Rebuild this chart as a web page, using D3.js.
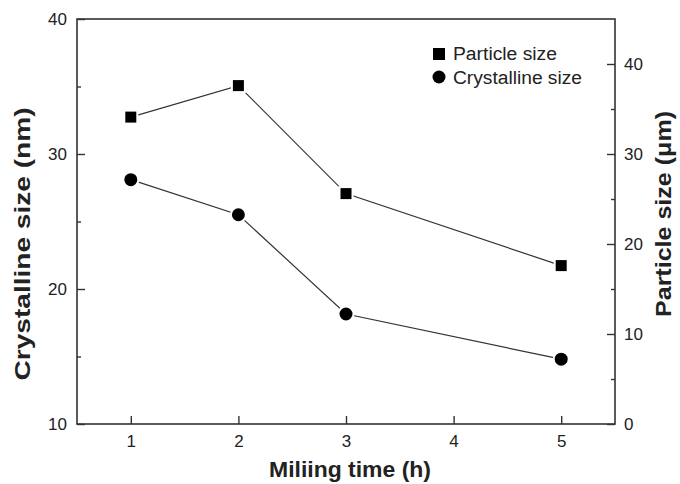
<!DOCTYPE html>
<html>
<head>
<meta charset="utf-8">
<script src="https://cdn.jsdelivr.net/npm/d3@7"></script>
<style>
  body { margin: 0; background: #fff; }
  svg text { font-family: "Liberation Sans", Arial, sans-serif; fill: #222; }
</style>
</head>
<body>
<div id="chart"></div>
<script>
// data
var millingTime = [1, 2, 3, 5];
var crystallineSize = [28.1, 25.5, 18.15, 14.8];   // nm, left axis
var particleSize = [34.1, 37.6, 25.6, 17.6];       // um, right axis
var xTicks = [1, 2, 3, 4, 5];
var leftTicks = [10, 20, 30, 40];
var leftMinor = [15, 25, 35];
var rightTicks = [0, 10, 20, 30, 40];
var rightMinor = [5, 15, 25, 35];

var width = 680, height = 484;
var margin = {top: 19, right: 65, bottom: 60, left: 77};
var x0 = margin.left, x1 = width - margin.right;
var y0 = height - margin.bottom, y1 = margin.top;

var svg = d3.select("#chart").append("svg")
  .attr("width", width)
  .attr("height", height);

var x = d3.scaleLinear().domain([0.5, 5.5]).range([x0, x1]);
var yL = d3.scaleLinear().domain([10, 40]).range([y0, y1]);
var yR = d3.scaleLinear().domain([0, 45]).range([y0, y1]);

var axisColor = "#333";

// frame
svg.append("rect")
  .attr("x", x0).attr("y", y1)
  .attr("width", x1 - x0).attr("height", y0 - y1)
  .attr("fill", "none").attr("stroke", axisColor).attr("stroke-width", 1.6);

function styleTicks(g) {
  g.select(".domain").remove();
  g.selectAll("line").attr("stroke", axisColor).attr("stroke-width", 1.4);
  g.selectAll("text").attr("font-size", 17);
}

// bottom axis, ticks pointing in
svg.append("g").attr("transform", "translate(0," + y0 + ")")
  .call(d3.axisBottom(x).tickValues(xTicks).tickSize(-8).tickPadding(16).tickFormat(d3.format("d")))
  .call(styleTicks)
  .selectAll("text").attr("dy", "0.4em");

// left axis
svg.append("g").attr("transform", "translate(" + x0 + ",0)")
  .call(d3.axisLeft(yL).tickValues(leftTicks).tickSize(-8).tickPadding(10))
  .call(styleTicks);
svg.append("g").attr("transform", "translate(" + x0 + ",0)")
  .call(d3.axisLeft(yL).tickValues(leftMinor).tickSize(-4).tickFormat(""))
  .call(styleTicks);

// right axis
svg.append("g").attr("transform", "translate(" + x1 + ",0)")
  .call(d3.axisRight(yR).tickValues(rightTicks).tickSize(-8).tickPadding(9))
  .call(styleTicks);
svg.append("g").attr("transform", "translate(" + x1 + ",0)")
  .call(d3.axisRight(yR).tickValues(rightMinor).tickSize(-4).tickFormat(""))
  .call(styleTicks);

// axis titles
svg.append("text")
  .attr("transform", "translate(30,244) rotate(-90)")
  .attr("text-anchor", "middle")
  .attr("font-size", 22).attr("font-weight", "bold")
  .attr("textLength", 273).attr("lengthAdjust", "spacingAndGlyphs")
  .text("Crystalline size (nm)");

svg.append("text")
  .attr("transform", "translate(671,214) rotate(-90)")
  .attr("text-anchor", "middle")
  .attr("font-size", 22).attr("font-weight", "bold")
  .attr("textLength", 206).attr("lengthAdjust", "spacingAndGlyphs")
  .text("Particle size (\u03bcm)");

svg.append("text")
  .attr("x", 350).attr("y", 477)
  .attr("text-anchor", "middle")
  .attr("font-size", 22).attr("font-weight", "bold")
  .attr("textLength", 162).attr("lengthAdjust", "spacingAndGlyphs")
  .text("Miliing time (h)");

// lines
var partPts = millingTime.map(function(t, i) { return [x(t), yR(particleSize[i])]; });
var crysPts = millingTime.map(function(t, i) { return [x(t), yL(crystallineSize[i])]; });

svg.append("path").attr("d", d3.line()(partPts))
  .attr("fill", "none").attr("stroke", "#333").attr("stroke-width", 1.2);
svg.append("path").attr("d", d3.line()(crysPts))
  .attr("fill", "none").attr("stroke", "#333").attr("stroke-width", 1.2);

// markers, white outline leaves a small gap around each point
svg.selectAll(".sq").data(partPts).enter().append("rect")
  .attr("x", function(d) { return d[0] - 6.5; })
  .attr("y", function(d) { return d[1] - 6.5; })
  .attr("width", 13).attr("height", 13)
  .attr("fill", "#000").attr("stroke", "#fff").attr("stroke-width", 2);

svg.selectAll(".ci").data(crysPts).enter().append("circle")
  .attr("cx", function(d) { return d[0]; })
  .attr("cy", function(d) { return d[1]; })
  .attr("r", 7.5)
  .attr("fill", "#000").attr("stroke", "#fff").attr("stroke-width", 2);

// legend
var legend = svg.append("g");
legend.append("rect").attr("x", 433).attr("y", 48).attr("width", 12).attr("height", 12).attr("fill", "#000");
legend.append("text").attr("x", 453).attr("y", 60).attr("font-size", 18)
  .attr("textLength", 104).attr("lengthAdjust", "spacingAndGlyphs").text("Particle size");
legend.append("circle").attr("cx", 439).attr("cy", 77).attr("r", 6.5).attr("fill", "#000");
legend.append("text").attr("x", 453).attr("y", 84).attr("font-size", 18)
  .attr("textLength", 129).attr("lengthAdjust", "spacingAndGlyphs").text("Crystalline size");
</script>
</body>
</html>
